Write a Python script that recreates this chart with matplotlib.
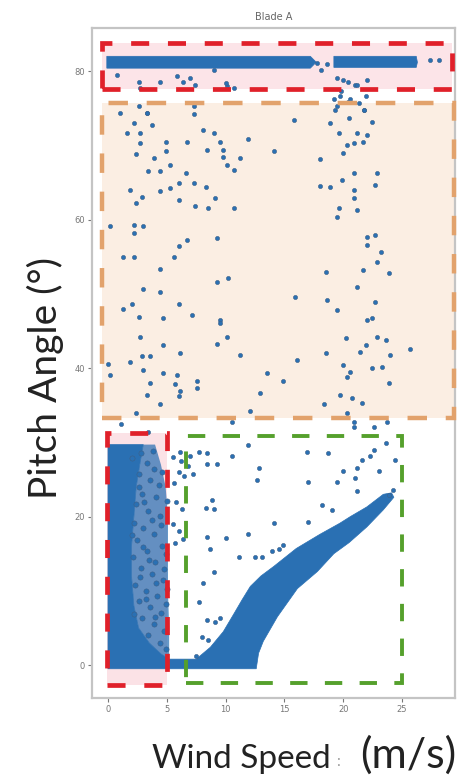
import matplotlib.pyplot as plt
from matplotlib.patches import Rectangle, Polygon

plt.rcParams['lines.scale_dashes'] = False
plt.rcParams['font.family'] = ['DejaVu Sans']

# dense parts of the cloud, traced as outlines (wind speed m/s, pitch deg)
top_band_a = [(-0.1, 82.0), (17.2, 82.0), (17.7, 81.2), (17.2, 80.4), (-0.1, 80.4)]
top_band_b = [(19.2, 82.0), (26.2, 82.0), (26.3, 81.2), (26.2, 80.5), (19.2, 80.5)]

core_x = [0.0, 0.0, 3.0, 2.7, 2.4, 2.2, 2.0, 2.0, 2.2, 2.6, 3.5, 4.5, 5.2, 7.5,
          8.7, 9.8, 10.7, 11.4, 12.1, 13.0, 14.1, 16.0, 18.0, 19.7, 20.6, 22.0,
          23.4, 24.1, 24.3, 23.4, 22.0, 20.5, 19.2, 17.8, 16.1, 14.4, 13.2, 12.8,
          12.6, 0.0]
core_y = [-0.5, 29.7, 29.7, 27.0, 24.0, 20.0, 16.0, 12.0, 8.0, 5.0, 3.0, 1.5, 0.8, 0.8,
          2.4, 4.5, 6.9, 8.8, 10.6, 12.0, 13.3, 15.7, 17.6, 19.1, 20.0, 21.3,
          23.0, 23.2, 22.6, 20.9, 18.6, 16.5, 15.0, 12.6, 10.3, 6.5, 3.2, 1.6,
          -0.5, -0.5]

# speckled zone right of the solid block
speck_x = [3.0, 4.0, 4.5, 4.9, 5.1, 5.1, 5.1, 5.2, 5.2, 4.5, 3.5, 2.6, 2.2, 2.0, 2.0, 2.2, 2.4, 2.7]
speck_y = [29.7, 29.7, 27.0, 24.0, 20.0, 15.0, 10.0, 5.0, 0.8, 1.5, 3.0, 5.0, 8.0, 12.0, 16.0, 20.0, 24.0, 27.0]

speck_pts = [(2.8, 28.5), (3.3, 27.2), (2.6, 25.8), (3.6, 24.9), (2.9, 23.1), (4.1, 22.6),
             (2.4, 21.7), (3.4, 20.8), (4.4, 20.1), (2.2, 19.2), (3.0, 18.4), (3.9, 17.6),
             (2.5, 16.8), (4.6, 16.1), (3.3, 15.4), (2.1, 14.6), (4.0, 13.9), (2.8, 13.1),
             (3.7, 12.2), (4.7, 11.5), (2.3, 10.8), (3.2, 10.0), (4.2, 9.3), (2.6, 8.6),
             (3.6, 7.8), (4.5, 7.0), (2.9, 6.3), (3.9, 5.5), (4.8, 4.6), (3.4, 4.1),
             (4.4, 3.0), (2.0, 27.9), (3.9, 26.4), (4.5, 18.9), (2.7, 11.9), (4.9, 8.2),
             (3.1, 21.9), (2.0, 17.5), (3.5, 14.2), (4.3, 24.3), (2.2, 6.9), (4.8, 13.0),
             (3.8, 28.9), (4.6, 26.0), (5.0, 22.1), (4.9, 15.0), (5.0, 10.2), (4.1, 11.0),
             (3.0, 15.9), (3.7, 19.6), (2.6, 24.0), (4.0, 6.5), (3.2, 8.9), (4.9, 2.2)]

# scattered points around the band, in the transition zone and near the curve
top_pts = [(0.8, 79.5), (2.6, 78.6), (2.7, 77.7), (4.4, 78.5), (5.9, 79.3), (6.4, 78.6),
           (7.0, 79.1), (7.4, 78.2), (10.1, 78.0), (9.0, 80.2), (10.0, 78.4), (10.7, 77.7),
           (17.8, 81.1), (18.1, 80.2), (18.6, 80.9), (19.5, 79.1), (20.4, 78.6), (21.0, 78.2),
           (22.0, 78.8), (19.7, 76.6), (20.4, 75.9), (21.3, 75.7), (21.8, 74.8), (19.3, 74.8),
           (19.8, 77.3), (19.2, 76.2), (20.6, 76.2), (21.9, 76.6), (27.4, 81.5), (28.1, 81.5),
           (2.6, 75.3), (3.3, 74.3), (7.3, 75.3), (19.5, 75.3), (20.0, 78.8), (21.2, 78.2)]

mid_pts = [(1.0, 74.3), (3.3, 74.3), (7.3, 74.2), (2.2, 73.0), (1.6, 71.7), (2.7, 71.7),
           (3.7, 72.8), (8.1, 72.1), (9.0, 71.7), (9.5, 70.5), (11.9, 70.8), (15.8, 73.4),
           (18.9, 73.0), (20.5, 73.7), (21.8, 74.8), (22.4, 73.2), (19.6, 71.7), (21.2, 71.7),
           (22.0, 71.4), (4.9, 70.5), (6.7, 70.5), (2.7, 70.3), (2.4, 68.9), (4.9, 69.2),
           (3.9, 68.3), (8.4, 69.4), (9.8, 69.4), (9.8, 68.5), (10.1, 67.4), (10.7, 66.7),
           (11.2, 68.3), (14.1, 69.2), (18.0, 68.1), (20.0, 69.0), (20.9, 70.3), (21.7, 70.5),
           (20.3, 70.1), (3.4, 66.5), (4.4, 66.5), (5.3, 67.4), (6.6, 66.3), (20.9, 66.3),
           (22.9, 66.3), (6.0, 64.9), (7.3, 64.9), (8.3, 64.4), (1.9, 64.0), (4.4, 63.8),
           (5.3, 64.2), (18.0, 64.5), (18.9, 64.4), (19.9, 65.4), (20.9, 64.0), (22.7, 64.7),
           (2.9, 63.1), (2.4, 62.2), (6.0, 62.7), (9.1, 62.9), (20.9, 62.9), (7.4, 61.8),
           (8.5, 61.5), (10.7, 61.5), (19.6, 61.5), (21.2, 61.3), (19.5, 60.4), (0.2, 59.2),
           (2.2, 59.3), (3.0, 59.1), (2.2, 58.2), (6.0, 56.4), (6.7, 57.3), (9.3, 57.5),
           (22.0, 57.7), (22.7, 57.9), (22.0, 56.6), (23.2, 55.7), (1.3, 55.0), (2.2, 55.0),
           (5.6, 55.0), (22.9, 54.3), (4.4, 53.4), (18.5, 53.0), (21.7, 53.2), (23.9, 52.8),
           (9.3, 51.6), (10.2, 52.1), (21.2, 50.9), (3.0, 50.7), (4.4, 50.3), (15.9, 49.6),
           (18.6, 49.2), (19.5, 47.8), (22.7, 48.9), (1.3, 48.0), (2.0, 48.7), (2.6, 46.9),
           (4.7, 46.7), (6.0, 48.7), (7.1, 47.2), (9.5, 46.5), (22.0, 46.5), (22.4, 46.7),
           (2.7, 44.2), (10.1, 44.2), (9.3, 43.3), (20.2, 44.0), (21.9, 43.1), (22.9, 44.2),
           (23.6, 43.8), (4.7, 43.1), (9.5, 46.1), (2.9, 41.6), (3.6, 41.6), (6.1, 42.0),
           (11.2, 41.8), (16.1, 41.1), (18.5, 42.0), (21.4, 42.2), (24.0, 41.8), (25.7, 42.6),
           (0.0, 40.6), (1.9, 40.8), (3.0, 39.7), (20.0, 40.4), (20.6, 39.5), (23.3, 40.2),
           (0.2, 39.1), (4.7, 39.3), (5.9, 39.1), (13.5, 39.3), (14.9, 38.2), (20.3, 38.8),
           (22.4, 40.0), (23.9, 38.0), (3.6, 38.0), (5.7, 37.8), (7.6, 38.2), (7.6, 37.3),
           (6.1, 36.9), (3.3, 36.4), (6.0, 36.2), (12.9, 36.7), (19.7, 36.4), (20.7, 36.0),
           (21.6, 35.3), (18.4, 35.1), (2.4, 34.0), (4.4, 35.1), (12.1, 34.2), (10.5, 32.8),
           (20.3, 34.0), (20.9, 32.8), (22.6, 32.0), (23.7, 32.8), (20.9, 32.1), (1.1, 32.5),
           (3.4, 31.4)]

low_pts = [(6.1, 28.7), (7.0, 28.1), (7.7, 28.7), (8.4, 28.5), (9.3, 27.1), (8.4, 27.1),
           (10.5, 28.1), (11.9, 29.6), (12.8, 26.5), (12.7, 24.9), (16.9, 28.7), (17.0, 24.7),
           (18.7, 28.5), (19.5, 24.7), (20.0, 26.2), (21.2, 26.5), (21.0, 25.2), (21.2, 23.4),
           (21.6, 27.6), (22.3, 28.1), (23.0, 26.1), (22.6, 29.0), (24.4, 27.6), (23.6, 29.9),
           (8.8, 22.2), (9.0, 21.0), (8.3, 21.1), (18.2, 21.5), (19.0, 20.9), (14.1, 19.1),
           (17.0, 19.3), (8.4, 17.3), (10.0, 17.1), (11.9, 17.7), (11.1, 14.6), (12.5, 14.6),
           (13.1, 14.6), (13.9, 15.3), (14.5, 15.7), (14.9, 16.2), (8.7, 15.7), (9.0, 12.6),
           (8.1, 11.0), (7.7, 8.5), (8.4, 6.1), (9.1, 5.8), (9.5, 6.3), (8.0, 3.8),
           (8.5, 3.4), (7.5, 1.2), (5.5, 28.0), (6.2, 27.5), (6.0, 26.0), (5.6, 24.5),
           (6.5, 25.5), (5.8, 22.0), (6.3, 21.0), (5.5, 19.0), (6.0, 18.0), (6.4, 17.0),
           (5.7, 16.5), (6.8, 26.8), (7.2, 25.8), (23.9, 22.9), (24.2, 23.6)]

x_ticks = [0, 5, 10, 15, 20, 25]
y_ticks = [0, 20, 40, 60, 80]

# annotation boxes: (x0, y0, x1, y1) in data units
red_top = (-0.5, 77.6, 29.2, 83.8)
orange_mid = (-0.5, 33.3, 29.4, 75.7)
red_low = (-0.1, -2.7, 5.0, 31.3)
green_low = (6.6, -2.4, 25.0, 30.9)

blue = '#2a70b3'

fig = plt.figure(figsize=(4.59, 7.8), dpi=100)
ax = fig.add_axes([0.2004, 0.105, 0.791, 0.859])


def box(b, edge, face, lw, dash, z):
    x0, y0, x1, y1 = b
    if face is not None:
        ax.add_patch(Rectangle((x0, y0), x1 - x0, y1 - y0, facecolor=face,
                               edgecolor='none', zorder=1, clip_on=False))
    ax.add_patch(Rectangle((x0, y0), x1 - x0, y1 - y0, facecolor='none',
                           edgecolor=edge, lw=lw, linestyle=(0, dash),
                           zorder=z, clip_on=False))


box(red_top, '#e0202a', '#fce4e8', 3.4, (13, 13.5), 6)
box(orange_mid, '#e2a26c', '#fbeee3', 3.2, (14, 13.5), 5)
box(red_low, '#e0202a', '#fbe2e6', 3.4, (13, 13.5), 6)
box(green_low, '#55a02c', None, 2.8, (12.5, 12.5), 6)

for band in (top_band_a, top_band_b):
    ax.add_patch(Polygon(band, closed=True, facecolor=blue, edgecolor=blue, lw=0.5, zorder=3))

ax.fill(speck_x, speck_y, color=blue, alpha=0.72, lw=0, zorder=2.9)
ax.fill(core_x, core_y, color=blue, lw=0.5, zorder=3)

for pts, s in ((speck_pts, 14), (top_pts, 9), (mid_pts, 9), (low_pts, 9)):
    xs = [p[0] for p in pts]
    ys = [p[1] for p in pts]
    ax.scatter(xs, ys, s=s, color=blue, edgecolors='#3d5f86', linewidths=0.4, zorder=4)

ax.set_xlim(-1.36, 29.5)
ax.set_ylim(-4.45, 85.8)
ax.set_xticks(x_ticks)
ax.set_yticks(y_ticks)
ax.tick_params(labelsize=6, colors='#777777', length=3, width=0.8, pad=2)
for sp in ax.spines.values():
    sp.set_color('#c4c4c4')
    sp.set_linewidth(1.6)

ax.set_title('Blade A', fontsize=7, color='#666666', pad=6)

# the big axis captions were pasted in a Calibri-like face
cap_font = ['Lato', 'DejaVu Sans']
fig.text(45 / 459, 1 - 378 / 780, 'Pitch Angle (°)', rotation=90, fontsize=28,
         family=cap_font, color='#222222', ha='center', va='center')
fig.text(152 / 459, 1 - 768 / 780, 'Wind Speed', fontsize=24, family=cap_font,
         color='#222222', ha='left', va='baseline')
fig.text(338 / 459, 1 - 766 / 780, ':', fontsize=11, family=cap_font,
         color='#999999', ha='center', va='baseline')
fig.text(456 / 459, 1 - 768 / 780, '(m/s)', fontsize=31, family=cap_font,
         color='#222222', ha='right', va='baseline')

fig.savefig('out.png', dpi=100)
